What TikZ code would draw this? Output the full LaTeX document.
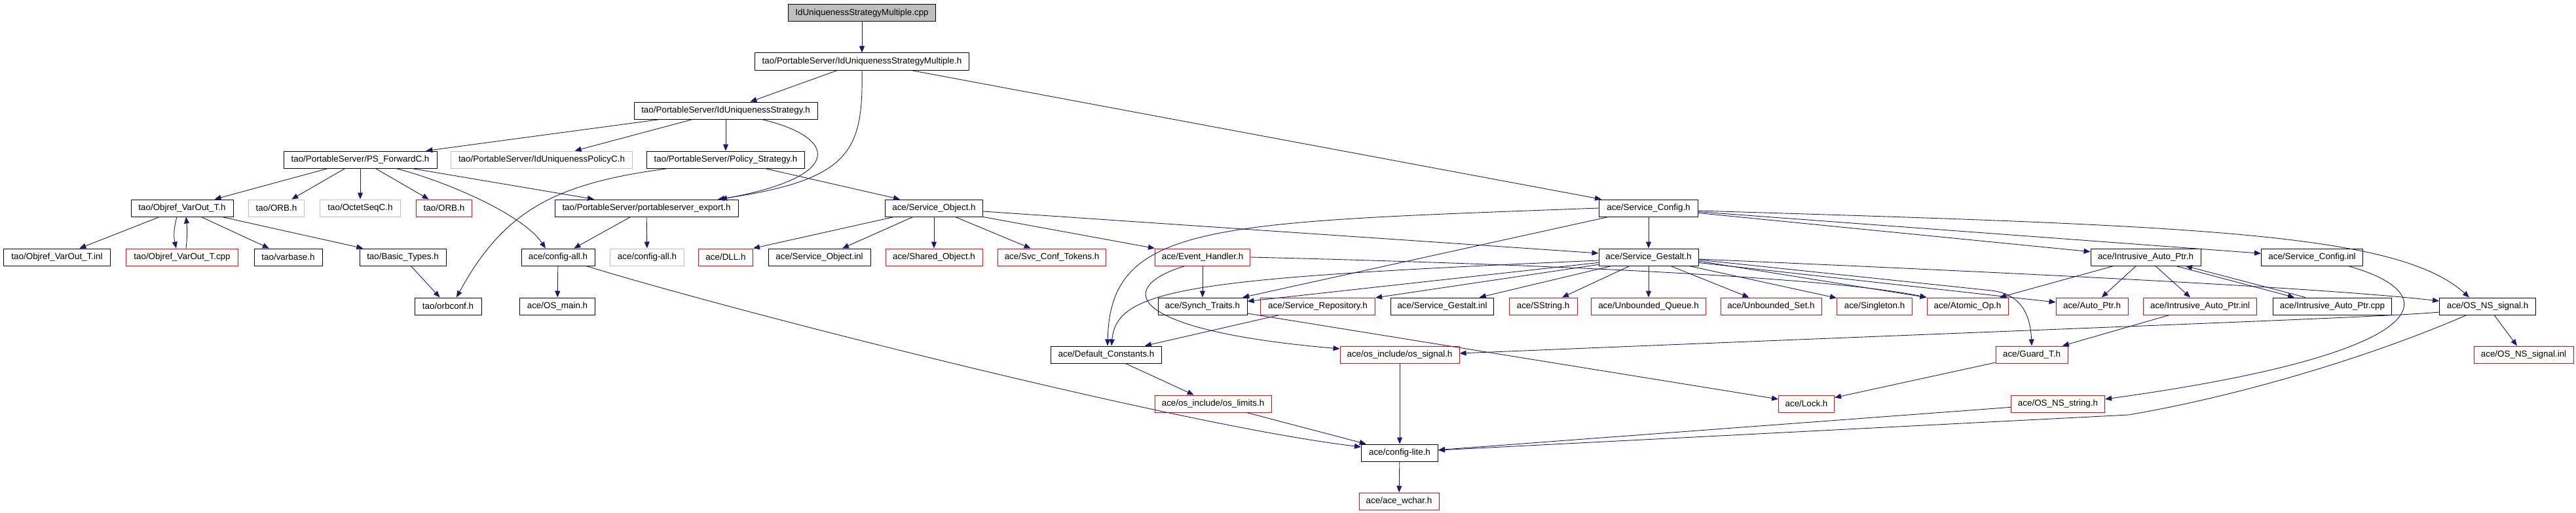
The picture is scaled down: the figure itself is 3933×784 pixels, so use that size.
\documentclass[tikz,border=0pt]{standalone}
\usepackage{fontspec}
\setmainfont{Liberation Sans}
\usetikzlibrary{arrows.meta}
\definecolor{edgec}{HTML}{191970}
\definecolor{graybd}{HTML}{BFBFBF}
\definecolor{redbd}{HTML}{FF0000}
\begin{document}
\begin{tikzpicture}[x=1pt,y=-1pt,
  nd/.style={draw=black, line width=1pt, minimum height=26pt, inner sep=0pt, font=\fontsize{13.4pt}{16pt}\selectfont, anchor=center},
  rd/.style={nd, draw=redbd},
  gr/.style={nd, draw=graybd},
  rootnd/.style={nd, fill=graybd},
  dep/.style={draw=edgec, line width=0.9pt, -{Triangle[length=10pt,width=8pt]}}]
\useasboundingbox (0,0) rectangle (3933,784);
% row 0-3
\node[rootnd, minimum width=225pt] (root) at (1316,20) {IdUniquenessStrategyMultiple.cpp};
\node[nd, minimum width=327pt] (IdUSM) at (1316,94) {tao/PortableServer/IdUniquenessStrategyMultiple.h};
\node[nd, minimum width=280pt] (IdUS) at (1108,169) {tao/PortableServer/IdUniquenessStrategy.h};
\node[nd, minimum width=234pt] (PSFwd) at (550,244) {tao/PortableServer/PS\_ForwardC.h};
\node[gr, minimum width=277pt] (IdUPolicyC) at (827,244) {tao/PortableServer/IdUniquenessPolicyC.h};
\node[nd, minimum width=241pt] (PolicyStrategy) at (1108,244) {tao/PortableServer/Policy\_Strategy.h};
% row 4
\node[nd, minimum width=156pt] (ObjrefH) at (278,318) {tao/Objref\_VarOut\_T.h};
\node[gr, minimum width=85pt] (ORBgray) at (422,318) {tao/ORB.h};
\node[gr, minimum width=123pt] (OctetSeqC) at (550,318) {tao/OctetSeqC.h};
\node[rd, minimum width=85pt] (ORBred) at (678,318) {tao/ORB.h};
\node[nd, minimum width=280pt] (PSexport) at (987,318) {tao/PortableServer/portableserver\_export.h};
\node[nd, minimum width=149pt] (SvcObj) at (1426,318) {ace/Service\_Object.h};
\node[nd, minimum width=151pt] (SvcConfig) at (2517,318) {ace/Service\_Config.h};
% row 5
\node[nd, minimum width=163pt] (ObjrefInl) at (87,393) {tao/Objref\_VarOut\_T.inl};
\node[rd, minimum width=171pt] (ObjrefCpp) at (278,393) {tao/Objref\_VarOut\_T.cpp};
\node[nd, minimum width=104pt] (varbase) at (440,393) {tao/varbase.h};
\node[nd, minimum width=132pt] (BasicTypes) at (615,393) {tao/Basic\_Types.h};
\node[nd, minimum width=112pt] (configall) at (852,393) {ace/config-all.h};
\node[gr, minimum width=113pt] (configallg) at (988,393) {ace/config-all.h};
\node[rd, minimum width=83pt] (DLL) at (1108,393) {ace/DLL.h};
\node[nd, minimum width=156pt] (SvcObjInl) at (1251,393) {ace/Service\_Object.inl};
\node[rd, minimum width=148pt] (SharedObj) at (1426,393) {ace/Shared\_Object.h};
\node[rd, minimum width=165pt] (SvcConfTok) at (1606,393) {ace/Svc\_Conf\_Tokens.h};
\node[rd, minimum width=145pt] (EventHandler) at (1836,393) {ace/Event\_Handler.h};
\node[nd, minimum width=152pt] (Gestalt) at (2517,393) {ace/Service\_Gestalt.h};
\node[nd, minimum width=168pt] (IAPh) at (3276,393) {ace/Intrusive\_Auto\_Ptr.h};
\node[nd, minimum width=155pt] (SvcConfigInl) at (3530,393) {ace/Service\_Config.inl};
% row 6
\node[nd, minimum width=102pt] (orbconf) at (684,468) {tao/orbconf.h};
\node[nd, minimum width=115pt] (OSmain) at (851,468) {ace/OS\_main.h};
\node[nd, minimum width=136pt] (SynchTraits) at (1836,468) {ace/Synch\_Traits.h};
\node[rd, minimum width=175pt] (SvcRepo) at (2012,468) {ace/Service\_Repository.h};
\node[nd, minimum width=157pt] (GestaltInl) at (2202,468) {ace/Service\_Gestalt.inl};
\node[rd, minimum width=104pt] (SString) at (2356,468) {ace/SString.h};
\node[rd, minimum width=175pt] (UQueue) at (2517,468) {ace/Unbounded\_Queue.h};
\node[rd, minimum width=154pt] (USet) at (2704,468) {ace/Unbounded\_Set.h};
\node[rd, minimum width=115pt] (Singleton) at (2862,468) {ace/Singleton.h};
\node[rd, minimum width=124pt] (AtomicOp) at (3004,468) {ace/Atomic\_Op.h};
\node[rd, minimum width=110pt] (AutoPtr) at (3194,468) {ace/Auto\_Ptr.h};
\node[rd, minimum width=173pt] (IAPinl) at (3359,468) {ace/Intrusive\_Auto\_Ptr.inl};
\node[nd, minimum width=181pt] (IAPcpp) at (3561,468) {ace/Intrusive\_Auto\_Ptr.cpp};
\node[nd, minimum width=147pt] (OSNSsignal) at (3798,468) {ace/OS\_NS\_signal.h};
% row 7
\node[nd, minimum width=169pt] (DefConst) at (1689,542) {ace/Default\_Constants.h};
\node[rd, minimum width=182pt] (ossignal) at (2137,542) {ace/os\_include/os\_signal.h};
\node[rd, minimum width=110pt] (GuardT) at (3102,542) {ace/Guard\_T.h};
\node[rd, minimum width=152pt] (OSNSsignalInl) at (3853,542) {ace/OS\_NS\_signal.inl};
% row 8
\node[rd, minimum width=178pt] (oslimits) at (1852,617) {ace/os\_include/os\_limits.h};
\node[rd, minimum width=85pt] (Lock) at (2758,617) {ace/Lock.h};
\node[rd, minimum width=143pt] (OSNSstring) at (3142,617) {ace/OS\_NS\_string.h};
% row 9-10
\node[nd, minimum width=117pt] (configlite) at (2137,692) {ace/config-lite.h};
\node[rd, minimum width=122pt] (wchar) at (2136,766) {ace/ace\_wchar.h};

% edges
\draw[dep] (root) -- (IdUSM);
\draw[dep] (IdUSM) -- (IdUS);
\draw[dep] (IdUSM.south) .. controls (1318,230) and (1300,275) .. ([xshift=109pt]PSexport.north);
\draw[dep] ([xshift=75pt]IdUSM.south) -- ([xshift=-72pt]SvcConfig.north);
\draw[dep] (IdUS) -- (PSFwd);
\draw[dep] (IdUS) -- (IdUPolicyC);
\draw[dep] (IdUS) -- (PolicyStrategy);
\draw[dep] ([xshift=55pt]IdUS.south) .. controls (1280,210) and (1290,270) .. ([xshift=113pt]PSexport.north);
\draw[dep] (PSFwd) -- (ObjrefH);
\draw[dep] (PSFwd) -- (ORBgray);
\draw[dep] (PSFwd) -- (OctetSeqC);
\draw[dep] (PSFwd) -- (ORBred);
\draw[dep] ([xshift=55pt]PSFwd.south) .. controls (690,280) and (800,330) .. ([xshift=-19pt]configall.north);
\draw[dep] ([xshift=79pt]PSFwd.south) -- ([xshift=-80pt]PSexport.north);
\draw[dep] ([xshift=-88pt]PolicyStrategy.south) .. controls (850,280) and (770,320) .. ([xshift=13pt]orbconf.north);
\draw[dep] ([xshift=60pt]PolicyStrategy.south) -- ([xshift=-52pt]SvcObj.north);
\draw[dep] (ObjrefH) -- (ObjrefInl);
\draw[dep] ([xshift=-8pt]ObjrefH.south) .. controls (265,350) and (265,362) .. ([xshift=-9pt]ObjrefCpp.north);
\draw[dep] ([xshift=6pt]ObjrefCpp.north) .. controls (286,362) and (286,350) .. ([xshift=6pt]ObjrefH.south);
\draw[dep] (ObjrefH) -- (varbase);
\draw[dep] (ObjrefH) -- (BasicTypes);
\draw[dep] (BasicTypes) -- (orbconf);
\draw[dep] (PSexport) -- (configall);
\draw[dep] (PSexport) -- (configallg);
\draw[dep] (configall) -- (OSmain);
\draw[dep] ([xshift=43pt]configall.south) .. controls (1100,470) and (1800,650) .. ([yshift=9pt]configlite.west);
\draw[dep] ([xshift=14pt]SvcObj.south west) -- (DLL.north east);
\draw[dep] ([xshift=-32pt]SvcObj.south) -- ([xshift=35pt]SvcObjInl.north);
\draw[dep] (SvcObj) -- (SharedObj);
\draw[dep] (SvcObj) -- (SvcConfTok);
\draw[dep] (SvcObj.south east) -- (EventHandler.north west);
\draw[dep] ([yshift=-5pt]SvcObj.east) -- ([yshift=6pt]Gestalt.west);
\draw[dep] (SvcConfig) -- (Gestalt);
\draw[dep] (SvcConfig.west) .. controls (1850,340) and (1695,340) .. ([xshift=2pt]DefConst.north);
\draw[dep] (SvcConfig) -- (SynchTraits);
\draw[dep] (SvcConfig) -- (IAPh);
\draw[dep] (SvcConfig) -- (SvcConfigInl);
\draw[dep] ([yshift=-4pt]SvcConfig.east) .. controls (3350,345) and (3660,355) .. ([xshift=-28pt]OSNSsignal.north);
\draw[dep] (EventHandler) -- (SynchTraits);
\draw[dep] ([xshift=-27pt]EventHandler.south) .. controls (1700,440) and (1720,505) .. ([yshift=9pt]ossignal.west);
\draw[dep] (EventHandler.east) .. controls (2400,405) and (2800,425) .. (AtomicOp.north west);
\draw[dep] ([yshift=-5pt]Gestalt.west) .. controls (1820,425) and (1705,440) .. ([xshift=8pt]DefConst.north);
\draw[dep] (Gestalt) -- (SynchTraits);
\draw[dep] (Gestalt) -- (SvcRepo);
\draw[dep] (Gestalt) -- (GestaltInl);
\draw[dep] (Gestalt) -- (SString);
\draw[dep] (Gestalt) -- (UQueue);
\draw[dep] (Gestalt) -- (USet);
\draw[dep] (Gestalt) -- (Singleton);
\draw[dep] ([yshift=-6pt]Gestalt.east) -- (AtomicOp.north west);
\draw[dep] (Gestalt) -- (AutoPtr);
\draw[dep] ([yshift=-4pt]Gestalt.east) -- (3040,444) .. controls (3085,449) and (3100,480) .. (GuardT.north);
\draw[dep] ([yshift=-3pt]Gestalt.east) .. controls (3100,418) and (3550,440) .. ([yshift=8pt]OSNSsignal.west);
\draw[dep] (SvcRepo) -- (DefConst);
\draw[dep] (SynchTraits) -- (Lock);
\draw[dep] (DefConst) -- (oslimits);
\draw[dep] (oslimits) -- (configlite);
\draw[dep] (ossignal) -- (configlite);
\draw[dep] (configlite) -- (wchar);
\draw[dep] (GuardT) -- (Lock);
\draw[dep] (IAPh) -- (AtomicOp);
\draw[dep] (IAPh) -- (AutoPtr);
\draw[dep] (IAPh) -- (IAPinl);
\draw[dep] ([xshift=46pt]IAPh.south) -- ([xshift=-58pt]IAPcpp.north);
\draw[dep] ([xshift=-41pt]IAPcpp.north) -- ([xshift=61pt]IAPh.south);
\draw[dep] (IAPinl) -- (GuardT);
\draw[dep] ([xshift=55pt]SvcConfigInl.south) .. controls (3740,450) and (3720,540) .. ([yshift=7pt]OSNSstring.east);
\draw[dep] (OSNSstring) -- (configlite);
\draw[dep] (OSNSsignal) -- (OSNSsignalInl);
\draw[dep] ([yshift=-9pt]OSNSsignal.west) .. controls (3640,485) and (3200,500) .. ([yshift=2pt]ossignal.east);
\draw[dep] ([xshift=-32pt]OSNSsignal.south) .. controls (3620,545) and (3420,605) .. (3250,634) -- ([yshift=4pt]configlite.east);
\end{tikzpicture}
\end{document}
